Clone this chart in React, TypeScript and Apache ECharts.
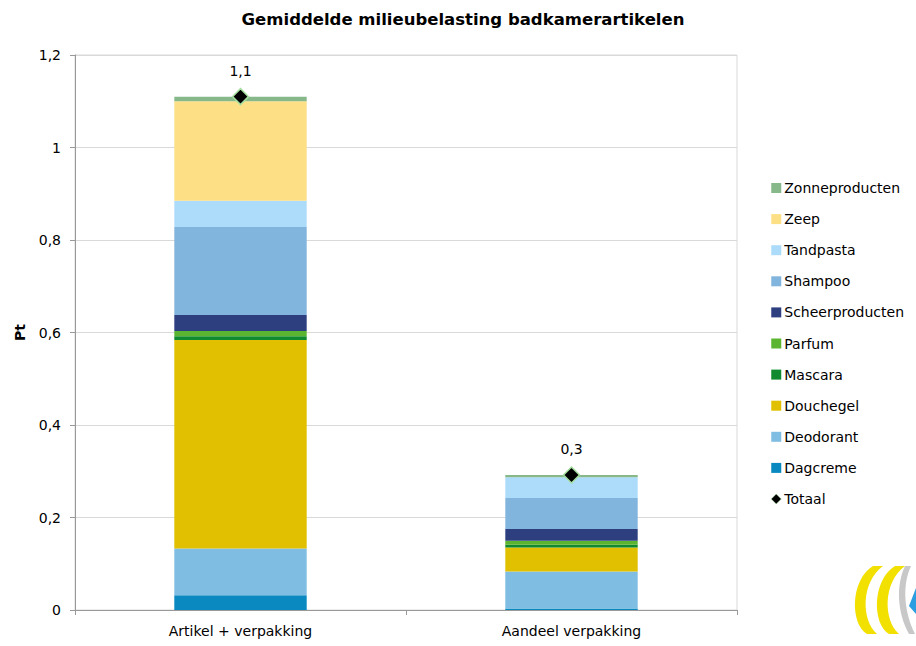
import React, { useEffect, useRef } from "react";
import * as echarts from "echarts";

const categories = ["Artikel + verpakking", "Aandeel verpakking"];

const dagcreme = [0.032, 0.003];
const deodorant = [0.101, 0.08];
const douchegel = [0.451, 0.052];
const mascara = [0.008, 0.006];
const parfum = [0.011, 0.009];
const scheerproducten = [0.035, 0.025];
const shampoo = [0.19, 0.067];
const tandpasta = [0.057, 0.045];
const zeep = [0.215, 0.0];
const zonneproducten = [0.01, 0.005];
const totaal = [1.11, 0.292];

const yTicks = [0, 0.2, 0.4, 0.6, 0.8, 1, 1.2];

const FONT = "DejaVu Sans";

const LOGO_YELLOW =
  "M 873 566 C 850 580 850 624 867 634 L 877 634 C 861 620 861 582 883 566 Z " +
  "M 895 566 C 872 580 872 624 889 634 L 899 634 C 883 620 883 582 905 566 Z";
const LOGO_GRAY =
  "M 905 566 L 911 566 C 902 585 904 612 915 634 L 909 634 C 897 612 896 585 905 566 Z";
const LOGO_BLUE = "M 916 588 L 916 614 L 909 606 Z";

export default function App() {
  const ref = useRef<HTMLDivElement>(null);

  useEffect(() => {
    if (!ref.current) return;
    try {
      echarts.graphic.registerShape("logoYellow", echarts.graphic.extendPath(LOGO_YELLOW, {}) as any);
      echarts.graphic.registerShape("logoGray", echarts.graphic.extendPath(LOGO_GRAY, {}) as any);
      echarts.graphic.registerShape("logoBlue", echarts.graphic.extendPath(LOGO_BLUE, {}) as any);
    } catch (e) {}
    const chart = echarts.init(ref.current, undefined, { renderer: "svg" });

    const barDefs: [string, number[], string][] = [
      ["Dagcreme", dagcreme, "#0a88c0"],
      ["Deodorant", deodorant, "#7fbde3"],
      ["Douchegel", douchegel, "#e0c000"],
      ["Mascara", mascara, "#0f8a2e"],
      ["Parfum", parfum, "#5cb531"],
      ["Scheerproducten", scheerproducten, "#2e3f80"],
      ["Shampoo", shampoo, "#82b5dd"],
      ["Tandpasta", tandpasta, "#addcfa"],
      ["Zeep", zeep, "#fde086"],
      ["Zonneproducten", zonneproducten, "#86b88a"],
    ];

    const fmt = (v: number, d: number) =>
      (Math.round(v * Math.pow(10, d)) / Math.pow(10, d)).toString().replace(".", ",");

    const series: any[] = barDefs.map(([name, data, color]) => ({
      name,
      type: "bar",
      stack: "total",
      data,
      barWidth: "40%",
      itemStyle: { color },
    }));
    series.push({
      name: "Totaal",
      type: "scatter",
      data: totaal,
      symbol: "diamond",
      symbolSize: 16,
      z: 10,
      itemStyle: { color: "#000000", opacity: 1, borderColor: "#a6e0a0", borderWidth: 1.5 },
      label: {
        show: true,
        position: "top",
        distance: 10,
        formatter: (p: any) => fmt(p.value, 1),
        fontFamily: FONT,
        fontSize: 14,
        color: "#000",
      },
    });

    chart.setOption({
      animation: false,
      backgroundColor: "#ffffff",
      title: {
        text: "Gemiddelde milieubelasting badkamerartikelen",
        left: 458,
        top: 6,
        textAlign: "center",
        textStyle: { fontFamily: FONT, fontSize: 16.5, fontWeight: "bold", color: "#000" },
      },
      grid: {
        left: 75,
        right: 179,
        top: 55,
        bottom: 36,
        show: true,
        borderColor: "#d9d9d9",
        borderWidth: 1,
      },
      legend: {
        orient: "vertical",
        left: 766,
        top: 176,
        itemWidth: 10,
        itemHeight: 10,
        itemGap: 17.1,
        textStyle: { fontFamily: FONT, fontSize: 14, color: "#000", padding: [0, 0, 0, -2] },
        data: [
          { name: "Zonneproducten", icon: "rect" },
          { name: "Zeep", icon: "rect" },
          { name: "Tandpasta", icon: "rect" },
          { name: "Shampoo", icon: "rect" },
          { name: "Scheerproducten", icon: "rect" },
          { name: "Parfum", icon: "rect" },
          { name: "Mascara", icon: "rect" },
          { name: "Douchegel", icon: "rect" },
          { name: "Deodorant", icon: "rect" },
          { name: "Dagcreme", icon: "rect" },
          { name: "Totaal", icon: "diamond", itemStyle: { borderWidth: 0.5 } },
        ],
      },
      xAxis: {
        type: "category",
        data: categories,
        axisLine: { lineStyle: { color: "#999999" } },
        axisTick: { show: true, alignWithLabel: false, length: 5, lineStyle: { color: "#999999" } },
        axisLabel: { fontFamily: FONT, fontSize: 14, color: "#000", margin: 14 },
      },
      yAxis: {
        type: "value",
        min: yTicks[0],
        max: yTicks[yTicks.length - 1],
        interval: 0.2,
        name: "Pt",
        nameLocation: "middle",
        nameGap: 48,
        nameTextStyle: { fontFamily: FONT, fontSize: 14, fontWeight: "bold", color: "#000" },
        axisLine: { show: true, lineStyle: { color: "#999999" } },
        axisTick: { show: true, length: 5, lineStyle: { color: "#999999" } },
        splitLine: { lineStyle: { color: "#d9d9d9" } },
        axisLabel: {
          fontFamily: FONT,
          fontSize: 14,
          color: "#000",
          margin: 14,
          formatter: (v: number) => fmt(v, 1),
        },
      },
      graphic: [
        { type: "logoGray", x: 0, y: 0, style: { fill: "#c8c8c8" }, silent: true },
        { type: "logoYellow", x: 0, y: 0, style: { fill: "#f2e000" }, silent: true },
        { type: "logoBlue", x: 0, y: 0, style: { fill: "#2a9ee0" }, silent: true },
      ],
      series,
    });

    return () => chart.dispose();
  }, []);

  return (
    <div
      ref={ref}
      style={{ position: "fixed", left: 0, top: 0, width: 916, height: 646, background: "#fff" }}
    />
  );
}
